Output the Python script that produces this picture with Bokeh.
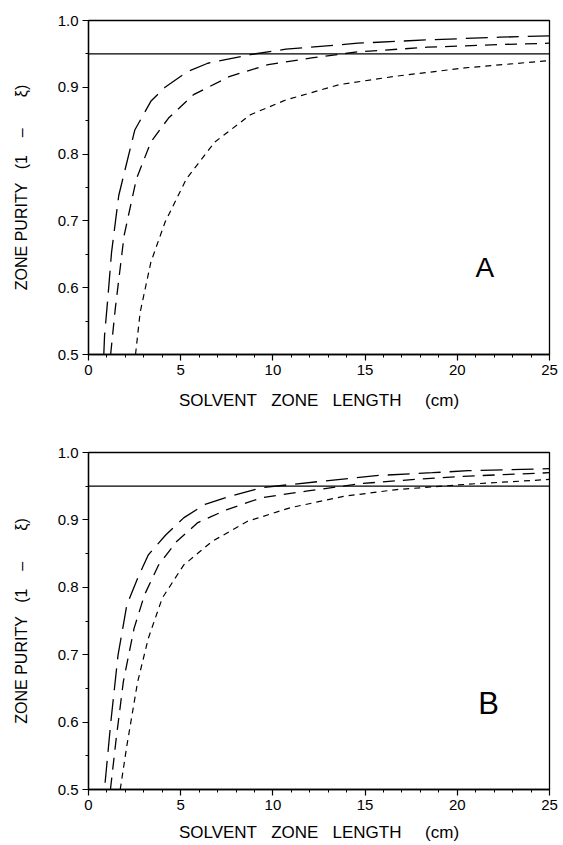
from bokeh.plotting import figure
from bokeh.layouts import column
from bokeh.models import Span, Label, FixedTicker, Range1d, NumeralTickFormatter
from bokeh.embed import file_html
from bokeh.resources import INLINE

# ---- data ----
x_ticks = [0, 5, 10, 15, 20, 25]
y_ticks = [0.5, 0.6, 0.7, 0.8, 0.9, 1.0]
purity_limit = 0.95

a_long_x = [0.83, 0.87, 1.06, 1.25, 1.64, 2.51, 3.38, 4.15, 5.4, 6.47, 8.78, 10.7, 14.6, 18.4, 22.3, 25.0]
a_long_y = [0.50, 0.528, 0.588, 0.653, 0.738, 0.836, 0.879, 0.900, 0.924, 0.936, 0.949, 0.957, 0.966, 0.971, 0.975, 0.977]
a_med_x = [1.2, 1.45, 1.93, 2.6, 3.38, 4.34, 5.7, 7.63, 9.75, 12.1, 14.6, 18.4, 22.3, 25.0]
a_med_y = [0.50, 0.568, 0.678, 0.763, 0.818, 0.854, 0.889, 0.916, 0.934, 0.944, 0.953, 0.960, 0.964, 0.966]
a_short_x = [2.55, 2.8, 3.38, 4.15, 5.31, 6.85, 8.78, 10.7, 13.6, 16.5, 20.4, 25.0]
a_short_y = [0.50, 0.563, 0.638, 0.698, 0.763, 0.818, 0.859, 0.881, 0.904, 0.916, 0.929, 0.940]

b_long_x = [0.9, 1.21, 1.6, 2.08, 2.66, 3.24, 4.2, 5.16, 6.32, 7.67, 9.4, 12.87, 15.76, 18.65, 20.6, 23.5, 25.0]
b_long_y = [0.51, 0.60, 0.699, 0.774, 0.813, 0.848, 0.878, 0.903, 0.923, 0.935, 0.948, 0.958, 0.966, 0.970, 0.973, 0.975, 0.976]
b_med_x = [1.19, 1.5, 1.89, 2.47, 3.04, 3.8, 4.78, 5.93, 7.48, 9.4, 11.9, 14.8, 17.7, 20.6, 25.0]
b_med_y = [0.50, 0.575, 0.66, 0.739, 0.789, 0.833, 0.868, 0.896, 0.915, 0.933, 0.943, 0.954, 0.960, 0.965, 0.970]
b_short_x = [1.72, 2.08, 2.66, 3.24, 4.0, 5.16, 6.7, 8.63, 10.94, 13.83, 16.72, 20.58, 25.0]
b_short_y = [0.50, 0.565, 0.659, 0.724, 0.784, 0.833, 0.868, 0.898, 0.918, 0.935, 0.945, 0.953, 0.960]

FONT = "Liberation Sans"
NB = "\u00a0"
X_LABEL = "SOLVENT" + NB * 3 + "ZONE" + NB * 3 + "LENGTH" + NB * 5 + "(cm)"
Y_LABEL = "ZONE" + NB + "PURITY" + NB * 3 + "(1" + NB * 4 + "\u2013" + NB * 7 + "\u03be)"


def make_panel(height, left, right, top, bottom, letter, letter_size, letter_xy,
               xl_standoff, long_xy, med_xy, short_xy):
    p = figure(width=563, height=height, output_backend="svg", toolbar_location=None,
               x_range=Range1d(0, 25), y_range=Range1d(0.5, 1.0),
               min_border_left=left, min_border_right=right,
               min_border_top=top, min_border_bottom=bottom)
    p.background_fill_color = "white"
    p.border_fill_color = "white"
    p.outline_line_color = "black"
    p.outline_line_width = 1.3
    p.xgrid.visible = False
    p.ygrid.visible = False

    p.xaxis.ticker = FixedTicker(ticks=x_ticks, minor_ticks=list(range(0, 26)))
    p.yaxis.ticker = FixedTicker(ticks=y_ticks,
                                 minor_ticks=[0.5, 0.55, 0.6, 0.65, 0.7, 0.75, 0.8, 0.85, 0.9, 0.95, 1.0])
    p.xaxis.formatter = NumeralTickFormatter(format="0")
    p.yaxis.formatter = NumeralTickFormatter(format="0.0")
    for ax in (p.xaxis[0], p.yaxis[0]):
        ax.axis_line_color = "black"
        ax.axis_line_width = 1.3
        ax.major_tick_line_color = "black"
        ax.minor_tick_line_color = "black"
        ax.major_tick_line_width = 1.2
        ax.minor_tick_line_width = 1.0
        ax.major_tick_out = 6
        ax.major_tick_in = 0
        ax.minor_tick_out = 3
        ax.minor_tick_in = 0
        ax.major_label_text_font = FONT
        ax.major_label_text_font_size = "15px"
        ax.major_label_text_color = "black"
        ax.axis_label_text_font = FONT
        ax.axis_label_text_font_style = "normal"
        ax.axis_label_text_color = "black"
        ax.major_label_standoff = 4
    p.xaxis.axis_label = X_LABEL
    p.yaxis.axis_label = Y_LABEL
    p.xaxis.axis_label_text_font_size = "17px"
    p.yaxis.axis_label_text_font_size = "16px"
    p.xaxis.axis_label_standoff = xl_standoff
    p.yaxis.axis_label_standoff = 25

    p.add_layout(Span(location=purity_limit, dimension="width",
                      line_color="black", line_width=1.3))

    p.line(long_xy[0], long_xy[1], line_color="black", line_width=1.3, line_dash="22 9")
    p.line(med_xy[0], med_xy[1], line_color="black", line_width=1.3, line_dash="12 8")
    p.line(short_xy[0], short_xy[1], line_color="black", line_width=1.2, line_dash="6 5")

    p.add_layout(Label(x=letter_xy[0], y=letter_xy[1], text=letter, text_font=FONT,
                       text_font_size=letter_size, text_color="black",
                       text_align="center", text_baseline="middle"))
    return p


p1 = make_panel(420, 88, 10, 20, 66, "A", "28px", (21.5, 0.63), 13,
                (a_long_x, a_long_y), (a_med_x, a_med_y), (a_short_x, a_short_y))
p2 = make_panel(425, 83, 14, 32, 56, "B", "31px", (21.7, 0.627), 10,
                (b_long_x, b_long_y), (b_med_x, b_med_y), (b_short_x, b_short_y))

layout = column(p1, p2, spacing=0)
open("out.html", "w").write(file_html(layout, INLINE))
